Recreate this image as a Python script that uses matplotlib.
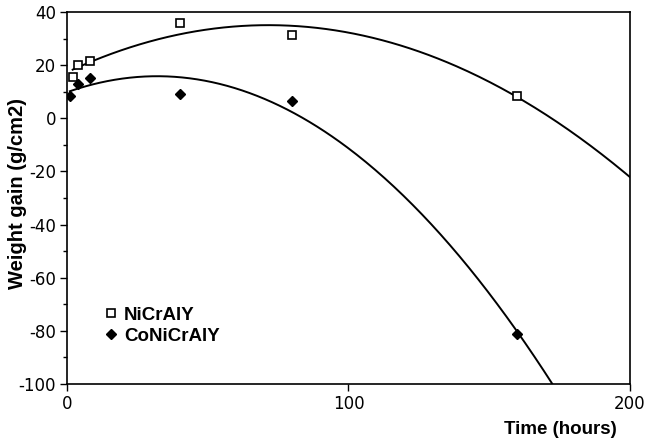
import numpy as np
import matplotlib
matplotlib.use('Agg')
import matplotlib.pyplot as plt
from matplotlib.ticker import MultipleLocator

plt.rcParams['font.family'] = ['Liberation Sans', 'DejaVu Sans']
plt.rcParams['axes.unicode_minus'] = False

# values
t_ni = [2, 4, 8, 40, 80, 160]
w_ni = [15.5, 20, 21.5, 36, 31.5, 8.5]
t_co = [1, 4, 8, 40, 80, 160]
w_co = [8.5, 13, 15.3, 9, 6.5, -81]

labels = ['NiCrAlY', 'CoNiCrAlY']
x_ticks = [0, 100, 200]
y_ticks = list(range(-100, 41, 20))

fig = plt.figure(figsize=(6.47, 4.45), dpi=100)
ax = fig.add_axes([0.1036, 0.137, 0.870, 0.836])

# polynomial trendlines fitted to the points (as the spreadsheet did)
for t, w in ((t_ni, w_ni), (t_co, w_co)):
    p = np.polyfit(t, w, 2)
    xs = np.linspace(min(t), 200, 300)
    ax.plot(xs, np.polyval(p, xs), color='black', lw=1.4, zorder=2)

ax.plot(t_ni, w_ni, ls='none', marker='s', ms=5.5, mfc='white', mec='black',
        mew=1.2, label=labels[0], zorder=3)
ax.plot(t_co, w_co, ls='none', marker='D', ms=5, color='black',
        label=labels[1], zorder=3)

ax.set_xlim(0, 200)
ax.set_ylim(-100, 40)
ax.set_xticks(x_ticks)
ax.set_yticks(y_ticks)
ax.yaxis.set_minor_locator(MultipleLocator(10))
ax.tick_params(axis='both', which='major', direction='out', length=5, width=1,
               pad=3)
ax.tick_params(axis='y', which='minor', direction='out', length=3, width=1)
for lab in ax.get_xticklabels() + ax.get_yticklabels():
    lab.set_family('DejaVu Sans')
    lab.set_fontsize(12)
for s in ax.spines.values():
    s.set_linewidth(1.2)

fig.text(0.027, 0.565, 'Weight gain (g/cm2)', fontsize=14.5, fontweight='bold',
         rotation=90, ha='center', va='center')
fig.text(0.866, 0.035, 'Time (hours)', fontsize=13.5, fontweight='bold',
         ha='center', va='center')

ax.legend(loc='lower left', bbox_to_anchor=(0.035, 0.06), frameon=False,
          handlelength=0.8, handletextpad=0.3, labelspacing=0.2,
          prop={'weight': 'bold', 'size': 13.5})

fig.savefig('out.png', dpi=100)
